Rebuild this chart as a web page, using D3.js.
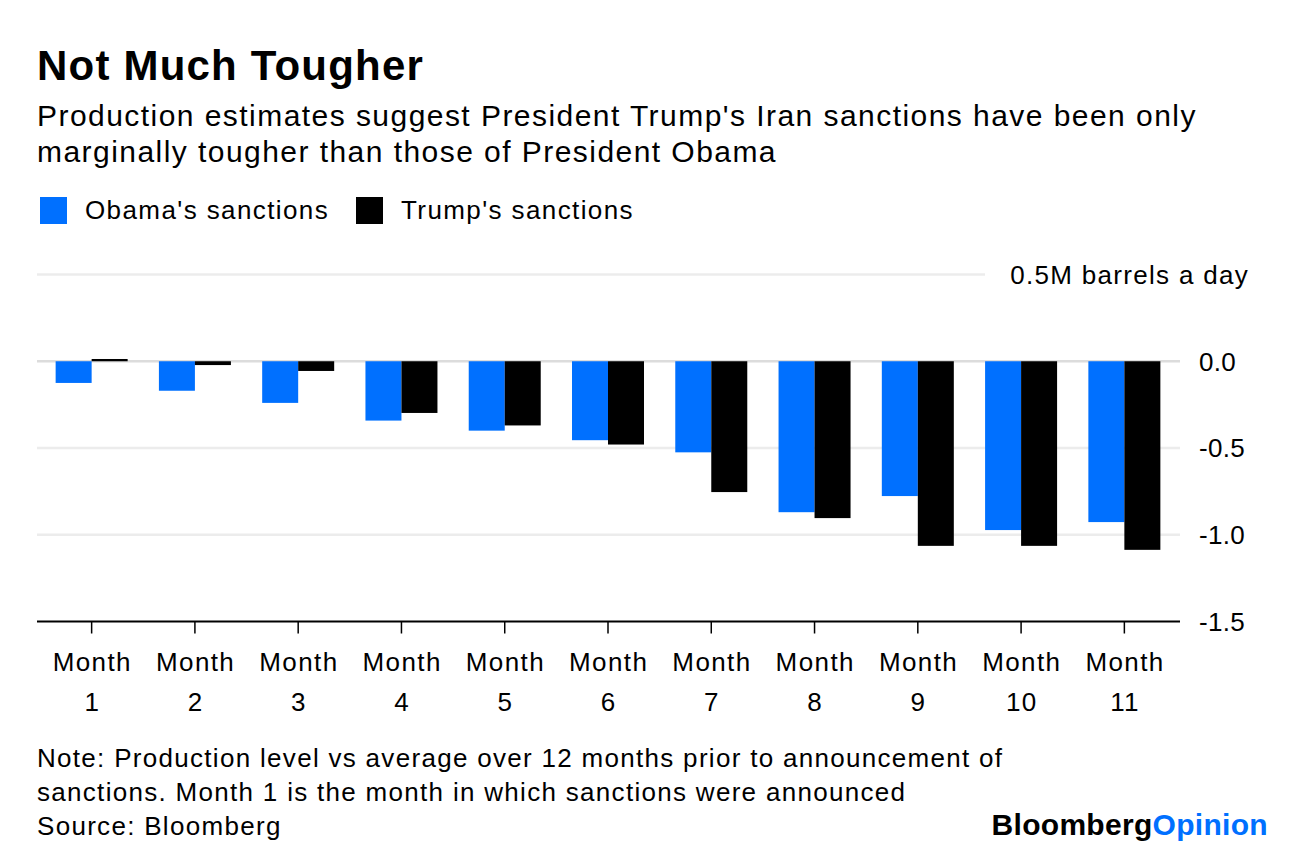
<!DOCTYPE html>
<html>
<head>
<meta charset="utf-8">
<script src="https://cdn.jsdelivr.net/npm/d3@7"></script>
<style>
  html, body { margin: 0; padding: 0; background: #fff; }
  svg text { font-family: "Liberation Sans", Arial, Helvetica, sans-serif; fill: #000; }
</style>
</head>
<body>
<svg id="chart" width="1296" height="858"></svg>
<script>
// data
const months = ["1", "2", "3", "4", "5", "6", "7", "8", "9", "10", "11"];
const series = ["Obama's sanctions", "Trump's sanctions"];
const obama = [-0.125, -0.17, -0.24, -0.342, -0.40, -0.455, -0.525, -0.87, -0.777, -0.973, -0.927];
const trump = [0.013, -0.022, -0.056, -0.298, -0.37, -0.48, -0.754, -0.904, -1.064, -1.064, -1.087];
const yTicks = [0.5, 0, -0.5, -1.0, -1.5];
const colors = ["#0070ff", "#000000"];

const svg = d3.select("#chart");

const left = 37, right = 1180;

const x = d3.scaleBand()
  .domain(months)
  .range([40, 1176])
  .padding(0);

const xs = d3.scaleBand()
  .domain(series)
  .range([x.bandwidth() / 2 - 36, x.bandwidth() / 2 + 36]);

const y = d3.scaleLinear()
  .domain([-1.5, 0.5])
  .range([621.5, 274.5]);

// title block
svg.append("text")
  .attr("x", 37).attr("y", 80)
  .style("font-size", "42px").style("font-weight", "bold")
  .style("letter-spacing", "1.2px")
  .text("Not Much Tougher");

const sub = ["Production estimates suggest President Trump's Iran sanctions have been only",
             "marginally tougher than those of President Obama"];
svg.selectAll(".sub").data(sub).enter().append("text")
  .attr("class", "sub")
  .attr("x", 37).attr("y", (d, i) => 126 + i * 36)
  .style("font-size", "30px")
  .style("letter-spacing", "1.45px")
  .text(d => d);

// legend
const legendX = [40, 356];
const lg = svg.selectAll(".lg").data(series).enter().append("g")
  .attr("class", "lg")
  .attr("transform", (d, i) => `translate(${legendX[i]},197)`);
lg.append("rect").attr("width", 27).attr("height", 27).attr("fill", (d, i) => colors[i]);
lg.append("text").attr("x", 45).attr("y", 22)
  .style("font-size", "26px").style("letter-spacing", "1.4px")
  .text(d => d);

// gridlines
svg.append("g").selectAll("line")
  .data(yTicks.filter(d => d !== -1.5))
  .enter().append("line")
  .attr("x1", left)
  .attr("x2", d => d === 0.5 ? 985 : right)
  .attr("y1", d => y(d)).attr("y2", d => y(d))
  .attr("stroke", d => d === 0 ? "#dcdcdc" : "#ececec")
  .attr("stroke-width", 2.5);

// y labels
svg.append("g").selectAll("text")
  .data(yTicks)
  .enter().append("text")
  .attr("x", d => d === 0.5 ? 1249 : 1199)
  .attr("y", d => y(d))
  .attr("dy", "0.36em")
  .attr("text-anchor", d => d === 0.5 ? "end" : "start")
  .style("font-size", "26px")
  .style("letter-spacing", d => d === 0.5 ? "1.3px" : "0.3px")
  .text(d => d === 0.5 ? "0.5M barrels a day" : d3.format(".1f")(d).replace("−", "-"));

// bars
const rows = months.map((m, i) => ({ month: m, values: [obama[i], trump[i]] }));
const groups = svg.append("g").selectAll("g")
  .data(rows)
  .enter().append("g")
  .attr("transform", d => `translate(${x(d.month)},0)`);

groups.selectAll("rect")
  .data(d => d.values.map((v, j) => ({ key: series[j], value: v, j })))
  .enter().append("rect")
  .attr("x", d => xs(d.key))
  .attr("width", xs.bandwidth())
  .attr("y", d => y(Math.max(0, d.value)))
  .attr("height", d => Math.max(1.5, Math.abs(y(d.value) - y(0))))
  .attr("fill", d => colors[d.j]);

// bottom axis
svg.append("line")
  .attr("x1", left).attr("x2", right)
  .attr("y1", y(-1.5)).attr("y2", y(-1.5))
  .attr("stroke", "#000").attr("stroke-width", 2);

svg.append("g").selectAll("line")
  .data(months)
  .enter().append("line")
  .attr("x1", d => x(d) + x.bandwidth() / 2)
  .attr("x2", d => x(d) + x.bandwidth() / 2)
  .attr("y1", y(-1.5)).attr("y2", y(-1.5) + 12)
  .attr("stroke", "#000").attr("stroke-width", 1.5);

const xl = svg.append("g").selectAll("text")
  .data(months)
  .enter().append("text")
  .attr("text-anchor", "middle")
  .style("font-size", "26px")
  .style("letter-spacing", "1.4px");
xl.append("tspan")
  .attr("x", d => x(d) + x.bandwidth() / 2 + 0.7).attr("y", 671)
  .text("Month");
xl.append("tspan")
  .attr("x", d => x(d) + x.bandwidth() / 2 + 0.7).attr("y", 711)
  .text(d => d);

// footnotes
const notes = ["Note: Production level vs average over 12 months prior to announcement of",
               "sanctions. Month 1 is the month in which sanctions were announced",
               "Source: Bloomberg"];
svg.selectAll(".note").data(notes).enter().append("text")
  .attr("class", "note")
  .attr("x", 37).attr("y", (d, i) => 767 + i * 34)
  .style("font-size", "26px")
  .style("letter-spacing", "1.3px")
  .text(d => d);

// logo
const logo = svg.append("text")
  .attr("x", 1268).attr("y", 835)
  .attr("text-anchor", "end")
  .style("font-size", "30px").style("font-weight", "bold")
  .style("letter-spacing", "0.3px");
logo.append("tspan").text("Bloomberg");
logo.append("tspan").style("fill", "#0070ff").text("Opinion");
</script>
</body>
</html>
